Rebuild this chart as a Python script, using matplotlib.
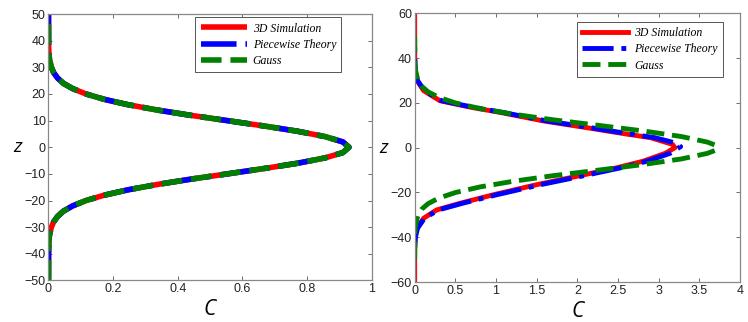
import matplotlib
matplotlib.use("Agg")
import matplotlib.pyplot as plt

# ---- left panel: all three curves coincide ----
z_left = [-50, -40, -36, -33, -30, -28, -26, -24, -22, -20, -18, -16, -14, -12, -10,
          -8, -6, -4, -2, 0, 2, 4, 6, 8, 10, 12, 14, 16, 18, 20, 22, 24, 26, 28, 30,
          33, 36, 40, 50]
c_left_sim = [0.0, 0.0002, 0.001, 0.003, 0.009, 0.016, 0.028, 0.046, 0.075, 0.116,
              0.172, 0.245, 0.335, 0.439, 0.553, 0.666, 0.771, 0.856, 0.911, 0.930,
              0.911, 0.856, 0.771, 0.666, 0.553, 0.439, 0.335, 0.245, 0.172, 0.116,
              0.075, 0.046, 0.028, 0.016, 0.009, 0.003, 0.001, 0.0002, 0.0]
c_left_piece = list(c_left_sim)
c_left_gauss = list(c_left_sim)

# ---- right panel ----
z_sim = [-60, -50, -44, -40, -36, -31.5, -27.8, -24.8, -21, -16.5, -12.8, -9, -6,
         -2.5, 0, 1.5, 4.5, 6.3, 8.7, 12, 15.8, 18, 21, 25.5, 30, 33, 36, 40, 50, 60]
c_sim = [0.0, 0.0, 0.001, 0.006, 0.03, 0.11, 0.27, 0.56, 0.97, 1.50, 1.99, 2.48,
         2.81, 3.08, 3.20, 3.17, 2.90, 2.57, 2.16, 1.58, 1.05, 0.70, 0.31, 0.11,
         0.03, 0.01, 0.004, 0.001, 0.0, 0.0]

z_piece = [-45, -40, -36, -31.5, -27.8, -24.8, -21, -16.5, -12.8, -9, -6,
           -2.5, 0.5, 2, 4.5, 6.3, 8.7, 12, 15.8, 18, 21, 25.5, 30, 33, 36, 40, 45]
c_piece = [0.0, 0.008, 0.035, 0.12, 0.29, 0.59, 1.01, 1.55, 2.04, 2.53,
           2.86, 3.14, 3.27, 3.22, 2.95, 2.62, 2.21, 1.62, 1.08, 0.73, 0.33, 0.12,
           0.035, 0.012, 0.005, 0.001, 0.0]

z_gauss = [-50, -40, -35, -30, -27.5, -25, -22.5, -20, -17.5, -15, -12.5, -10, -7.5,
           -5, -2.5, -1.25, 0, 1.25, 2.5, 5, 7.5, 10, 12.5, 15, 17.5, 20, 22.5, 25,
           27.5, 30, 35, 40, 50]
c_gauss = [0.0, 0.0001, 0.008, 0.041, 0.085, 0.164, 0.296, 0.503, 0.805, 1.21,
           1.70, 2.26, 2.81, 3.28, 3.60, 3.69, 3.72, 3.69, 3.60, 3.28, 2.81, 2.26,
           1.70, 1.21, 0.805, 0.503, 0.296, 0.164, 0.085, 0.041, 0.008, 0.0001, 0.0]

labels = ["3D Simulation", "Piecewise Theory", "Gauss"]

fig = plt.figure(figsize=(7.48, 3.22), dpi=100)
ax1 = fig.add_axes([0.0648, 0.1289, 0.432, 0.8276])
ax2 = fig.add_axes([0.5544, 0.1242, 0.4349, 0.834])


def style(ax, xlim, ylim, xticks, yticks, xticklabels):
    ax.set_xlim(*xlim)
    ax.set_ylim(*ylim)
    ax.set_xticks(xticks)
    ax.set_xticklabels(xticklabels)
    ax.set_yticks(yticks)
    ax.tick_params(direction="in", length=3, width=0.6, color="#555555",
                   top=True, right=True, labelsize=9, pad=2, labelcolor="#222222")
    for t in ax.get_xticklabels() + ax.get_yticklabels():
        t.set_family("Liberation Sans")
    for sp in ax.spines.values():
        sp.set_color("#888888")
        sp.set_linewidth(0.9)
    ax.set_xlabel("C", fontsize=15, family="Open Sans", style="italic", labelpad=3)
    ax.set_ylabel("z", fontsize=14, family="Open Sans", style="italic",
                  rotation=0, labelpad=5, va="center")
    leg = ax.legend(loc="upper right", fancybox=False, framealpha=1,
                    edgecolor="#555555", handlelength=3.9, borderpad=0.45,
                    labelspacing=0.35, handletextpad=0.5,
                    prop={"family": "Liberation Serif", "style": "italic", "size": 8.5})
    leg.get_frame().set_linewidth(0.7)


ax1.plot(c_left_sim, z_left, color="red", lw=4.0, solid_capstyle="butt", label=labels[0])
ax1.plot(c_left_piece, z_left, color="blue", lw=4.0, linestyle="-.", label=labels[1])
ax1.plot(c_left_gauss, z_left, color="green", lw=4.0, linestyle="--", label=labels[2])
style(ax1, (0, 1), (-50, 50), [0, 0.2, 0.4, 0.6, 0.8, 1],
      range(-50, 51, 10), ["0", "0.2", "0.4", "0.6", "0.8", "1"])
ax1.legend_.set_bbox_to_anchor((0.925, 1.01))

ax2.plot(c_sim, z_sim, color="red", lw=3.5, label=labels[0])
ax2.plot(c_piece, z_piece, color="blue", lw=3.5, linestyle="-.", label=labels[1])
ax2.plot(c_gauss, z_gauss, color="green", lw=3.5, linestyle="--", label=labels[2])
style(ax2, (0, 4), (-60, 60), [0, 0.5, 1, 1.5, 2, 2.5, 3, 3.5, 4],
      range(-60, 61, 20), ["0", "0.5", "1", "1.5", "2", "2.5", "3", "3.5", "4"])
ax2.legend_.set_bbox_to_anchor((0.965, 0.99))

fig.savefig("out.png", dpi=100)
